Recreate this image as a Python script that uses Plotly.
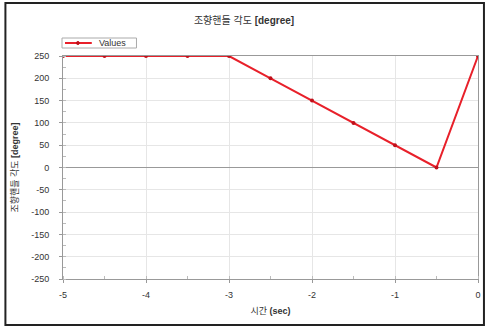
import plotly.graph_objects as go

x_vals = [-5, -4.5, -4, -3.5, -3, -2.5, -2, -1.5, -1, -0.5, 0]
y_vals = [250, 250, 250, 250, 250, 200, 150, 100, 50, 0, 250]
series_name = "Values"
title_text = "조향핸들 각도 <b>[degree]</b>"
x_title = "시간 <b>(sec)</b>"
y_title = "조향핸들 각도 <b>[degree]</b>"
x_tick_vals = [-5, -4, -3, -2, -1, 0]
x_tick_text = ["-5", "-4", "-3", "-2", "-1", "0"]
y_tick_vals = [-250, -200, -150, -100, -50, 0, 50, 100, 150, 200, 250]
y_tick_text = ["-250", "-200", "-150", "-100", "-50", "0", "50", "100", "150", "200", "250"]

W, H = 488, 327
ml, mr, mt, mb = 63, 7, 56, 48
pw, ph = W - ml - mr, H - mt - mb

def px(xp):
    return (xp - ml) / pw

def py(yp):
    return (H - mb - yp) / ph

line_color = "#e8202a"
marker_color = "#c0101a"

fig = go.Figure()
fig.add_trace(go.Scatter(
    x=x_vals, y=y_vals, mode="lines+markers", name=series_name,
    line=dict(color=line_color, width=2),
    marker=dict(color=marker_color, size=4),
    showlegend=False,
))

font_family = "Liberation Sans, Noto Sans CJK KR, sans-serif"
text_color = "#333"
fig.update_layout(
    width=W, height=H,
    margin=dict(l=ml, r=mr, t=mt, b=mb),
    paper_bgcolor="white", plot_bgcolor="white",
    font=dict(family=font_family, size=9, color=text_color),
    title=dict(text=title_text, x=0.5, xanchor="center", y=1 - 20 / H, yanchor="middle",
               font=dict(size=10, color=text_color)),
    showlegend=False,
    xaxis=dict(range=[-5, 0], tickvals=x_tick_vals, ticktext=x_tick_text,
               showgrid=True, gridcolor="#e6e6e6",
               zeroline=False, showline=True, linecolor="#999", mirror=True,
               ticks="outside", ticklen=3, tickcolor="#999", ticklabelstandoff=4,
               minor=dict(dtick=0.5, ticks="inside", ticklen=3, tickcolor="#bbb", showgrid=False),
               title=dict(text=x_title, font=dict(size=9, color=text_color), standoff=8)),
    yaxis=dict(range=[-250, 250], tickvals=y_tick_vals, ticktext=y_tick_text,
               showgrid=True, gridcolor="#e6e6e6",
               zeroline=True, zerolinecolor="#999", zerolinewidth=1,
               showline=True, linecolor="#999", mirror=True,
               ticks="outside", ticklen=3, tickcolor="#999", ticklabelstandoff=8,
               minor=dict(dtick=25, ticks="inside", ticklen=3, tickcolor="#bbb", showgrid=False),
               title=dict(text=y_title, font=dict(size=9, color=text_color), standoff=11)),
)

# compact legend box
fig.add_shape(type="rect", xref="paper", yref="paper",
              x0=px(62), x1=px(137), y0=py(48), y1=py(38),
              line=dict(color="#aaa", width=1), fillcolor="white", layer="above")
fig.add_shape(type="line", xref="paper", yref="paper",
              x0=px(65), x1=px(92), y0=py(43), y1=py(43),
              line=dict(color=line_color, width=2), layer="above")
fig.add_shape(type="circle", xref="paper", yref="paper",
              x0=px(76.5), x1=px(79.5), y0=py(44.5), y1=py(41.5),
              line=dict(color=marker_color, width=1), fillcolor=marker_color, layer="above")
fig.add_annotation(text=series_name, xref="paper", yref="paper",
                   x=px(97), y=py(43), xanchor="left", yanchor="middle",
                   showarrow=False, font=dict(size=9, color=text_color))

# outer frame
fig.add_shape(type="rect", xref="paper", yref="paper",
              x0=px(5), x1=px(487), y0=py(325), y1=py(3),
              line=dict(color="#222", width=2), fillcolor="rgba(0,0,0,0)", layer="above")

fig.write_html("out.html", config={"displayModeBar": False},
               post_script="document.body.style.margin='0px';")
